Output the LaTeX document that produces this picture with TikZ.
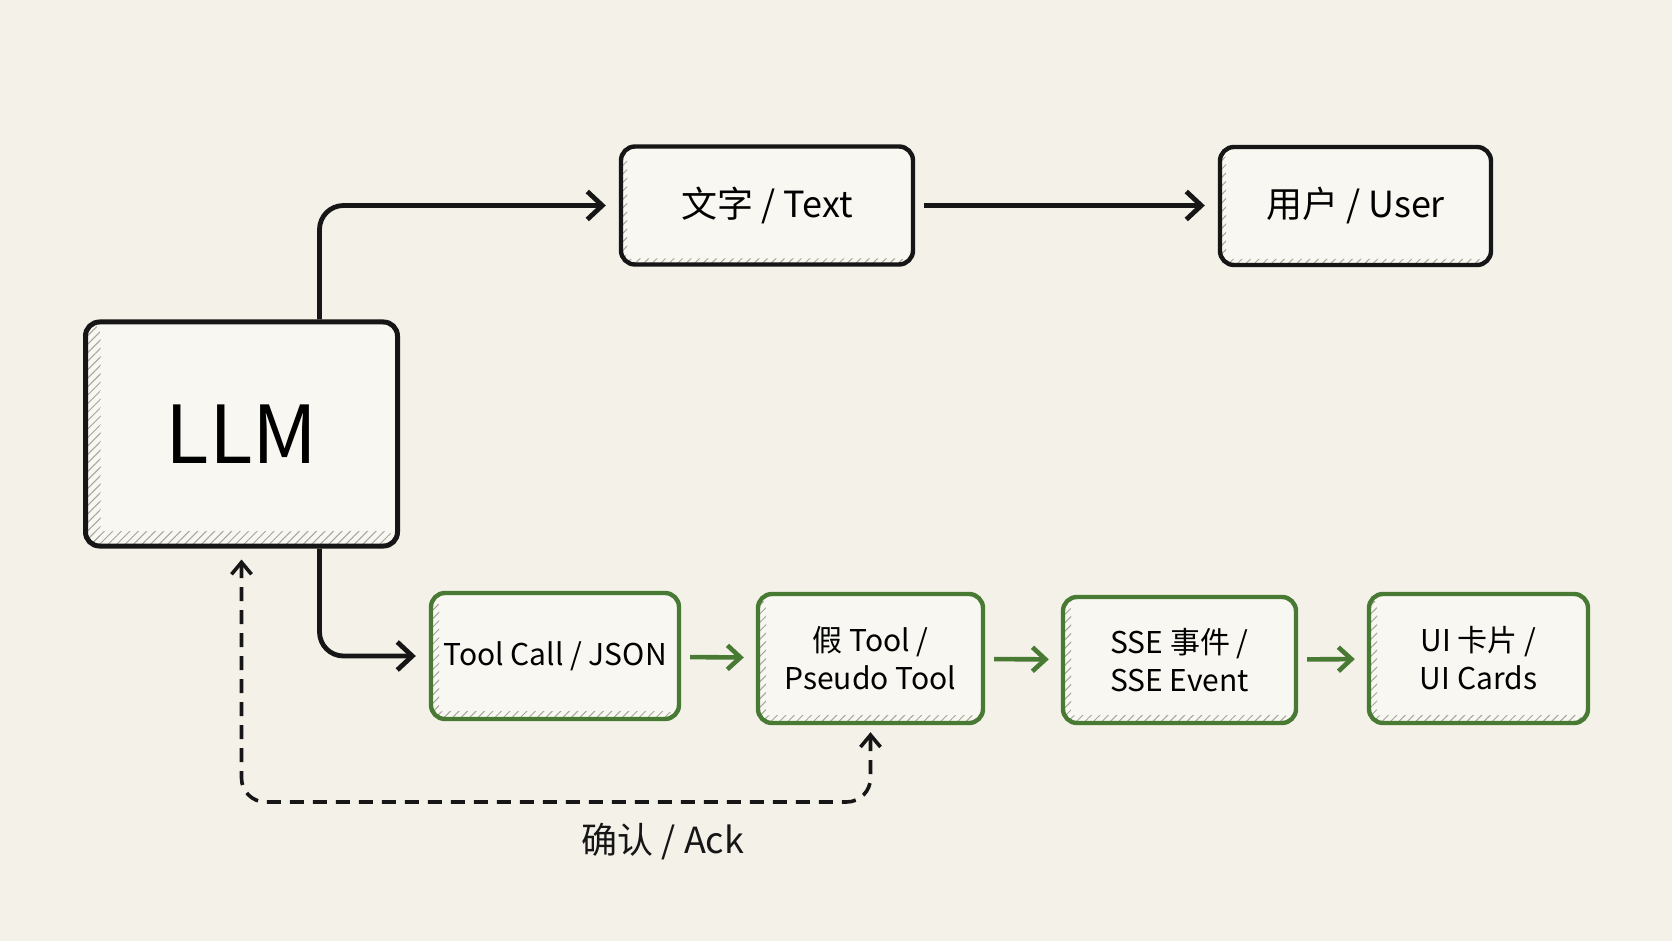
\documentclass[tikz,border=0pt]{standalone}
\usepackage{fontspec}
\setmainfont{Noto Sans CJK SC}
\usepackage{xcolor}
\usepackage{tikz}
\usetikzlibrary{arrows.meta, positioning, patterns.meta}
\definecolor{paper}{RGB}{243, 241, 232}
\definecolor{boxbg}{RGB}{248, 247, 241}
\definecolor{ink}{RGB}{22, 22, 22}
\definecolor{leafgreen}{RGB}{72, 122, 52}
\definecolor{hatchgray}{RGB}{165, 165, 155}

\begin{document}
\begin{tikzpicture}[
    x=0.5pt, y=-0.5pt,
    hatched/.style={path picture={
        \fill[pattern={Lines[angle=45, distance=3pt, line width=0.5pt]}, pattern color=hatchgray]
            (path picture bounding box.south west) rectangle ([xshift=#1]path picture bounding box.north west);
        \fill[pattern={Lines[angle=45, distance=3pt, line width=0.5pt]}, pattern color=hatchgray]
            (path picture bounding box.south west) rectangle ([yshift=#1]path picture bounding box.south east);}},
    llmnode/.style={rectangle, draw=ink, fill=boxbg, rounded corners=7pt, line width=2.5pt, minimum width=156pt, minimum height=112pt, font=\fontsize{40}{44}\selectfont, hatched=7.5pt},
    textnode/.style={rectangle, draw=ink, fill=boxbg, rounded corners=7pt, line width=2.2pt, minimum height=59pt, font=\fontsize{18}{22}\selectfont, hatched=3pt},
    stagenode/.style={rectangle, draw=leafgreen, fill=boxbg, rounded corners=7pt, line width=2.2pt, minimum height=63pt, align=center, font=\fontsize{15}{19}\selectfont, hatched=4pt},
    labelnode/.style={font=\fontsize{18}{22}\selectfont, text=ink},
    arrow/.style={-{Straight Barb[length=7.5pt, width=14pt]}, line width=2.4pt, draw=ink, rounded corners=12pt},
    greenarrow/.style={-{Straight Barb[length=6.5pt, width=12pt]}, line width=2.3pt, draw=leafgreen},
    ackarrow/.style={{Straight Barb[length=6pt, width=10pt]}-{Straight Barb[length=6pt, width=10pt]}, line width=1.8pt, draw=ink, dash pattern=on 7pt off 4.5pt, rounded corners=12pt}
]
    % Background
    \fill[paper] (0,0) rectangle (1672,941);
    \useasboundingbox (0,0) rectangle (1672,941);

    % Nodes
    \node[llmnode] (llm) at (241.5, 434) {LLM};
    \node[textnode, minimum width=146pt] (text) at (767, 205.5) {文字 / Text};
    \node[textnode, minimum width=135.5pt] (user) at (1355.5, 206) {用户 / User};

    \node[stagenode, minimum width=124pt] (toolcall) at (555, 656) {Tool Call / JSON};
    \node[stagenode, minimum width=112.5pt, minimum height=64.5pt] (pseudo) at (870.5, 658.5) {假 Tool /\\Pseudo Tool};
    \node[stagenode, minimum width=116.5pt] (sse) at (1179.5, 660) {SSE 事件 /\\SSE Event};
    \node[stagenode, minimum width=109.5pt, minimum height=64.5pt] (cards) at (1478.5, 658.5) {UI 卡片 /\\UI Cards};

    \coordinate (ackbase) at (555, 802);
    \node[labelnode] (ack) at (663, 842) {确认 / Ack};

    % Edges
    \draw[arrow, shorten >=6.5pt] ([xshift=39pt]llm.north) |- (text.west);
    \draw[arrow, shorten <=4.5pt, shorten >=6.5pt] (text.east) -- (user.west |- text.east);
    \draw[arrow, shorten >=6.5pt] ([xshift=39pt]llm.south) |- (toolcall.west);
    \draw[greenarrow, shorten <=4.5pt, shorten >=6pt] (toolcall) -- (pseudo);
    \draw[greenarrow, shorten <=4.5pt, shorten >=6pt] (pseudo) -- (sse);
    \draw[greenarrow, shorten <=4.5pt, shorten >=6pt] (sse) -- (cards);
    \draw[ackarrow, shorten <=5.5pt, shorten >=3.5pt] (llm.south) |- (ackbase) -| (pseudo.south);
\end{tikzpicture}
\end{document}
